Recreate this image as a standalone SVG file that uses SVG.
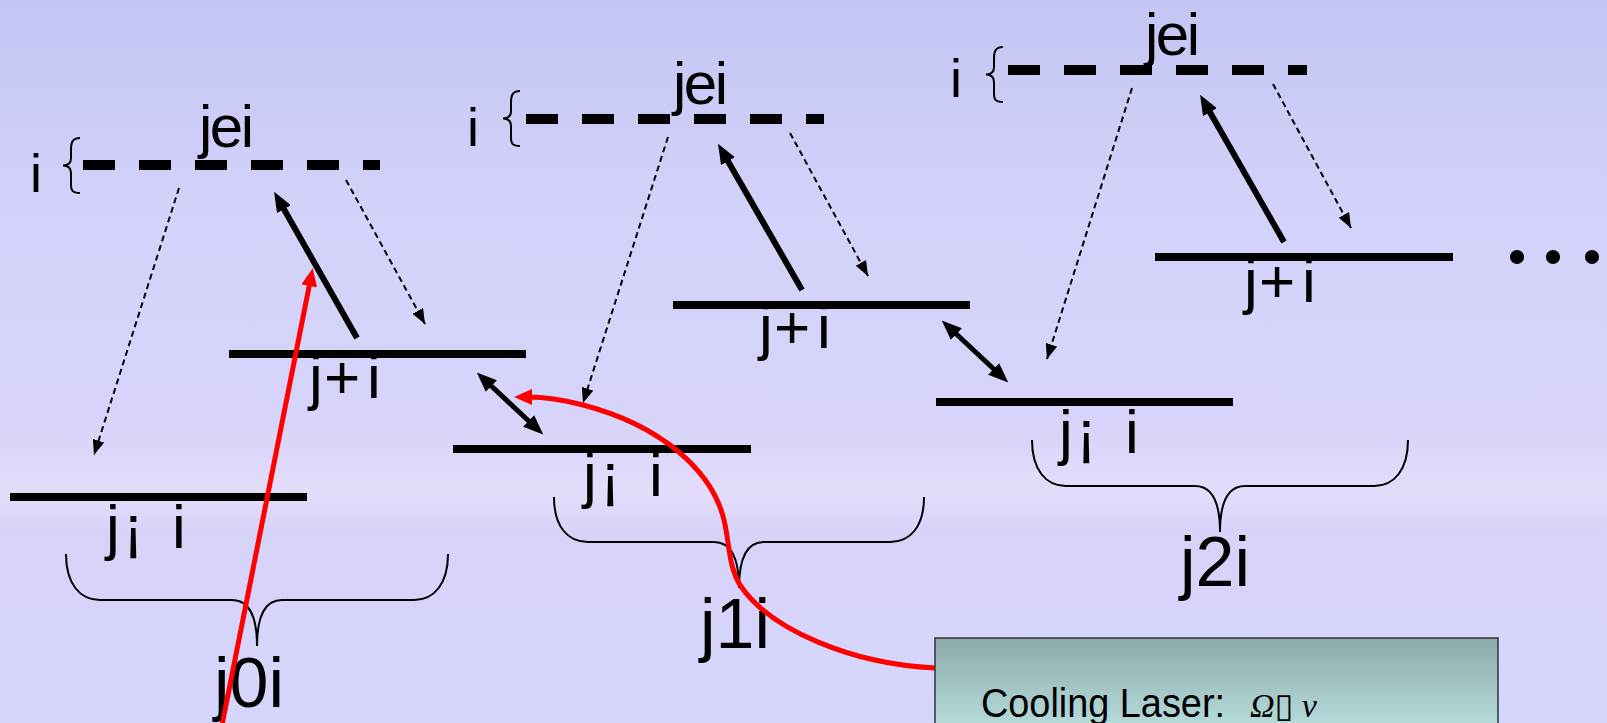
<svg xmlns="http://www.w3.org/2000/svg" width="1607" height="723" viewBox="0 0 1607 723">
  <defs>
    <linearGradient id="bg" x1="0" y1="0" x2="0" y2="1">
      <stop offset="0" stop-color="#c5c5f4"/>
      <stop offset="0.3" stop-color="#d2d2fa"/>
      <stop offset="0.58" stop-color="#d6d4fa"/>
      <stop offset="0.68" stop-color="#e4dcfa"/>
      <stop offset="0.74" stop-color="#d6d3f9"/>
      <stop offset="1" stop-color="#d6d6fc"/>
    </linearGradient>
    <linearGradient id="boxfill" x1="0" y1="0" x2="0" y2="1">
      <stop offset="0" stop-color="#8ea9a9"/>
      <stop offset="1" stop-color="#bae2e2"/>
    </linearGradient>
    <marker id="head" viewBox="0 0 20 16" refX="6" refY="8" markerWidth="20" markerHeight="16" markerUnits="userSpaceOnUse" orient="auto-start-reverse">
      <path d="M0,0 L20,8 L0,16 z" fill="#000"/>
    </marker>
    <marker id="thin" viewBox="0 0 15 12" refX="15" refY="6" markerWidth="15" markerHeight="12" markerUnits="userSpaceOnUse" orient="auto">
      <path d="M0,0 L15,6 L0,12 z" fill="#000"/>
    </marker>
    <marker id="redhead" viewBox="0 0 18 16" refX="4" refY="8" markerWidth="18" markerHeight="16" markerUnits="userSpaceOnUse" orient="auto">
      <path d="M0,0 L18,8 L0,16 z" fill="#ff0000"/>
    </marker>
    <path id="smallbrace" d="M80,138 C72,138 71,143 71,150 L71,158 C71,163 69,165.5 63,165.5 C69,165.5 71,168 71,173 L71,185 C71,190 72,193 80,193" fill="none" stroke="#000" stroke-width="2"/>
    <style>
      .lbl { font-family: "Liberation Sans", Arial, sans-serif; fill: #000; }
      .ket { font-size: 62px; }
      .exc { font-size: 60px; letter-spacing: -2.5px; }
      .num { font-size: 70px; }
      .side { font-size: 54px; }
      .level { stroke: #000; stroke-width: 8; }
      .virt { stroke: #000; stroke-width: 10; stroke-dasharray: 32 24; }
      .brace { fill: none; stroke: #000; stroke-width: 2; }
      .pump { stroke: #000; stroke-width: 6; marker-end: url(#head); }
      .decay { stroke: #000; stroke-width: 2; stroke-dasharray: 6 4; marker-end: url(#thin); }
      .swap { stroke: #000; stroke-width: 5; marker-start: url(#head); marker-end: url(#head); }
      .laser { fill: none; stroke: #ff0000; stroke-width: 5; marker-end: url(#redhead); }
    </style>
  </defs>

  <rect x="0" y="0" width="1607" height="723" fill="url(#bg)"/>

  <!-- phonon manifold n = 0 -->
  <g id="manifold-0">
    <text class="lbl side" x="30" y="192">i</text>
    <use href="#smallbrace"/>
    <text class="lbl exc" x="199" y="147">jei</text>
    <line class="virt" x1="83" y1="165" x2="380" y2="165"/>
    <text class="lbl ket" x="309 324 367" y="398">j+i</text>
    <line class="level" x1="229" y1="354" x2="526" y2="354"/>
    <text class="lbl ket" x="106 123 172" y="548">j¡i</text>
    <line class="level" x1="10" y1="497" x2="307" y2="497"/>
    <path class="brace" d="M66,554 C66,584 80,600 100,600 L232,600 C248,600 257,614 257,646 C257,614 266,600 282,600 L414,600 C434,600 448,584 448,554"/>
    <text class="lbl num" x="214" y="707">j0i</text>
  </g>

  <!-- phonon manifold n = 1 -->
  <g id="manifold-1">
    <text class="lbl side" x="467" y="146">i</text>
    <use href="#smallbrace" transform="translate(440,-47)"/>
    <text class="lbl exc" x="673" y="104">jei</text>
    <line class="virt" x1="526" y1="119" x2="824" y2="119"/>
    <text class="lbl ket" x="759 774 817" y="348">j+i</text>
    <line class="level" x1="673" y1="305" x2="970" y2="305"/>
    <text class="lbl ket" x="583 600 649" y="496">j¡i</text>
    <line class="level" x1="453" y1="449" x2="751" y2="449"/>
    <path class="brace" d="M554,497 C554,527 568,542 588,542 L714,542 C730,542 739,556 739,588 C739,556 748,542 764,542 L890,542 C910,542 924,527 924,497"/>
    <text class="lbl num" x="700" y="648">j1i</text>
  </g>

  <!-- phonon manifold n = 2 -->
  <g id="manifold-2">
    <text class="lbl side" x="950" y="97">i</text>
    <use href="#smallbrace" transform="translate(923,-91)"/>
    <text class="lbl exc" x="1145" y="55">jei</text>
    <line class="virt" x1="1008" y1="70" x2="1307" y2="70"/>
    <text class="lbl ket" x="1244 1259 1302" y="302">j+i</text>
    <line class="level" x1="1155" y1="257" x2="1453" y2="257"/>
    <text class="lbl ket" x="1059 1076 1125" y="453">j¡i</text>
    <line class="level" x1="936" y1="402" x2="1233" y2="402"/>
    <path class="brace" d="M1032,440 C1032,470 1046,486 1066,486 L1195,486 C1211,486 1220,500 1220,532 C1220,500 1229,486 1245,486 L1374,486 C1394,486 1408,470 1408,440"/>
    <text class="lbl num" x="1180" y="586">j2i</text>
  </g>

  <!-- continuation -->
  <g id="ellipsis" fill="#000">
    <circle cx="1517" cy="257" r="7"/>
    <circle cx="1553" cy="257" r="7"/>
    <circle cx="1592" cy="257" r="7"/>
  </g>

  <!-- transitions -->
  <g id="connectors">
    <line class="pump" x1="357" y1="338" x2="281" y2="204"/>
    <line class="pump" x1="802" y1="290" x2="725" y2="156"/>
    <line class="pump" x1="1284" y1="242" x2="1207" y2="107"/>
    <line class="decay" x1="346" y1="180" x2="425" y2="324"/>
    <line class="decay" x1="179" y1="188" x2="94" y2="455"/>
    <line class="decay" x1="790" y1="133" x2="868" y2="276"/>
    <line class="decay" x1="668" y1="137" x2="583" y2="403"/>
    <line class="decay" x1="1273" y1="84" x2="1351" y2="228"/>
    <line class="decay" x1="1132" y1="88" x2="1047" y2="359"/>
    <line class="swap" x1="487" y1="382" x2="533" y2="425"/>
    <line class="swap" x1="952" y1="330" x2="998" y2="373"/>
    <line class="laser" x1="221" y1="730" x2="310" y2="282"/>
    <path class="laser" d="M935,668 C852,664 770,630 740,585 C728,565 730,545 724,520 C712,470 660,425 583,405 C560,399 545,397 528,397"/>
  </g>

  <!-- laser note -->
  <g id="laser-note">
    <rect x="935" y="638" width="563" height="100" fill="url(#boxfill)" stroke="#333" stroke-width="1.5"/>
    <text x="981" y="717" font-family="'Comic Sans MS', 'Liberation Sans', sans-serif" font-size="40" textLength="244" lengthAdjust="spacingAndGlyphs" fill="#000">Cooling Laser:</text>
    <text x="1250" y="717" font-family="'Liberation Serif', 'DejaVu Serif', serif" font-style="italic" font-size="34" fill="#000">Ω▯ ν</text>
  </g>
</svg>
